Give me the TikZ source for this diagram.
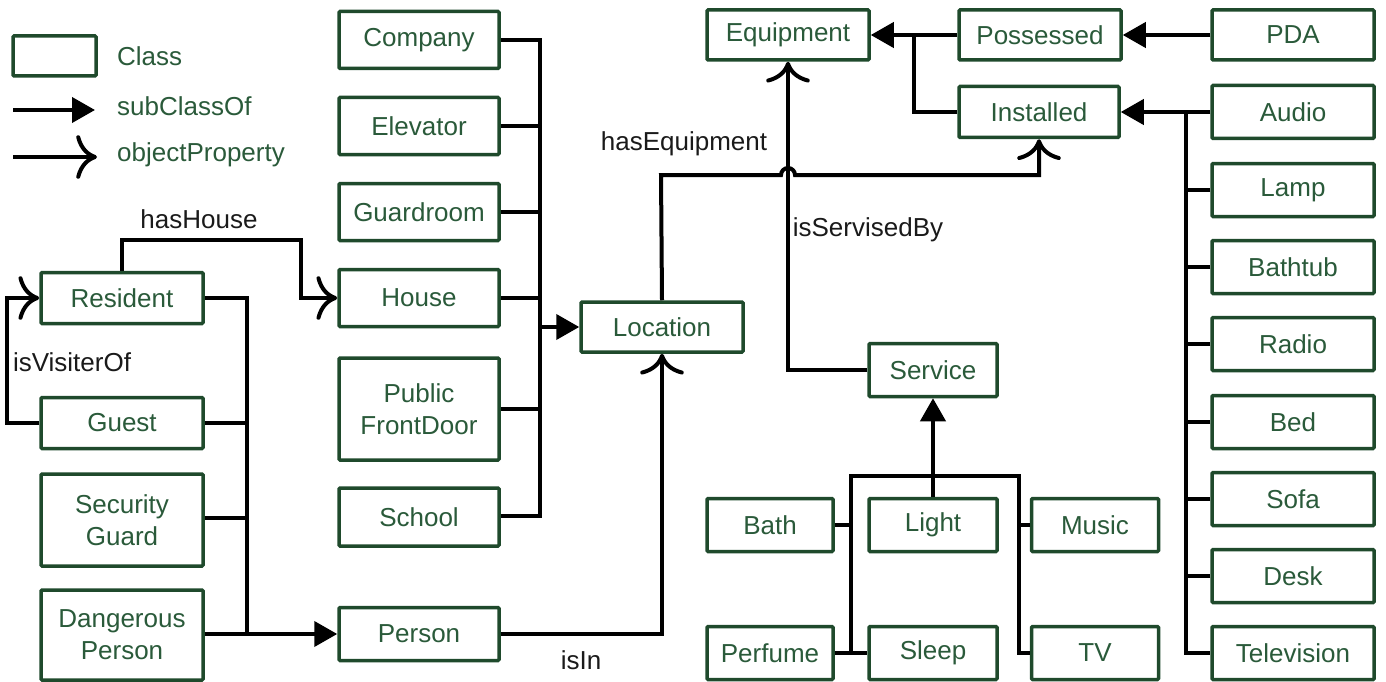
\documentclass[tikz,border=0pt]{standalone}
\usepackage{fontspec}
\setmainfont{Liberation Sans}
\usetikzlibrary{arrows.meta,calc}
\definecolor{boxgreen}{HTML}{1F4A2C}
\definecolor{txtgreen}{HTML}{2A5A3A}
\definecolor{lbl}{HTML}{1A1A1A}
\tikzset{
  cls/.style={draw=boxgreen, line width=3.5pt, rounded corners=1pt, text=txtgreen,
    font=\fontsize{26}{32}\selectfont, align=center, inner sep=0pt, fill=white},
  conn/.style={line width=4pt, black},
  sub/.style={conn, -{Triangle[length=23pt,width=25pt]}},
  obj/.style={conn, -{Computer Modern Rightarrow[scale=2.0, line width=4pt]}},
  lab/.style={text=lbl, font=\fontsize{26}{30}\selectfont, inner sep=0pt},
  leg/.style={text=txtgreen, font=\fontsize{26}{30}\selectfont, inner sep=0pt, anchor=west}
}
\begin{document}
\begin{tikzpicture}[x=1pt,y=-1pt]
\useasboundingbox (0,0) rectangle (1386,682);
% legend
\node[cls, minimum width=83pt, minimum height=40pt] (legbox) at (54.5,56) {};
\node[leg] (legc) at (117,56) {Class};
\coordinate (ls1) at (13,110); \coordinate (ls2) at (95,110);
\draw[sub] (ls1) -- (ls2);
\node[leg] (legs) at (117,106) {subClassOf};
\coordinate (lo1) at (13,157); \coordinate (lo2) at (97,157);
\draw[obj] (lo1) -- (lo2);
\node[leg] (lego) at (117,155) {objectProperty};
% left column
\node[cls, minimum width=162pt, minimum height=51pt] (resident) at (122,298) {Resident};
\node[cls, minimum width=162pt, minimum height=51pt] (guest) at (122,423) {Guest};
\node[cls, minimum width=162pt, minimum height=92pt] (security) at (122,520) {Security\\Guard};
\node[cls, minimum width=162pt, minimum height=90pt] (danger) at (122,635) {Dangerous\\Person};
% middle column
\node[cls, minimum width=160pt, minimum height=57pt] (company) at (419,40) {Company};
\node[cls, minimum width=160pt, minimum height=57pt] (elevator) at (419,126) {Elevator};
\node[cls, minimum width=160pt, minimum height=57pt] (guardroom) at (419,212) {Guardroom};
\node[cls, minimum width=160pt, minimum height=57pt] (house) at (419,298) {House};
\node[cls, minimum width=160pt, minimum height=102pt] (public) at (419,409) {Public\\FrontDoor};
\node[cls, minimum width=160pt, minimum height=58pt] (school) at (419,517) {School};
\node[cls, minimum width=160pt, minimum height=53pt] (person) at (419,634) {Person};
\node[cls, minimum width=162pt, minimum height=50pt] (location) at (662,327) {Location};
% top right
\node[cls, minimum width=162pt, minimum height=50pt] (equipment) at (788,35) {Equipment};
\node[cls, minimum width=162pt, minimum height=50pt] (possessed) at (1040,35) {Possessed};
\node[cls, minimum width=162pt, minimum height=50pt] (pda) at (1293,35) {PDA};
\node[cls, minimum width=160pt, minimum height=51pt] (installed) at (1039,112) {Installed};
% right column
\node[cls, minimum width=162pt, minimum height=53pt] (audio) at (1293,112) {Audio};
\node[cls, minimum width=162pt, minimum height=53pt] (lamp) at (1293,190) {Lamp};
\node[cls, minimum width=162pt, minimum height=53pt] (bathtub) at (1293,267) {Bathtub};
\node[cls, minimum width=162pt, minimum height=53pt] (radio) at (1293,344) {Radio};
\node[cls, minimum width=162pt, minimum height=53pt] (bed) at (1293,422) {Bed};
\node[cls, minimum width=162pt, minimum height=53pt] (sofa) at (1293,499) {Sofa};
\node[cls, minimum width=162pt, minimum height=53pt] (desk) at (1293,576) {Desk};
\node[cls, minimum width=162pt, minimum height=53pt] (television) at (1293,653) {Television};
% service
\node[cls, minimum width=128pt, minimum height=53pt] (service) at (933,370) {Service};
\node[cls, minimum width=126pt, minimum height=53pt] (bath) at (770,525) {Bath};
\node[cls, minimum width=128pt, minimum height=53pt] (light) at (933,525) {Light};
\node[cls, minimum width=127pt, minimum height=53pt] (music) at (1095,525) {Music};
\node[cls, minimum width=126pt, minimum height=53pt] (perfume) at (770,653) {Perfume};
\node[cls, minimum width=128pt, minimum height=53pt] (sleep) at (933,653) {Sleep};
\node[cls, minimum width=127pt, minimum height=53pt] (tv) at (1095,653) {TV};
% left bus
\coordinate (lbt) at (247,298);
\coordinate (lbb) at (247,634);
\draw[conn] (resident.east) -- (lbt) -- (lbb);
\draw[conn] (guest.east) -- (guest.east -| lbt);
\draw[conn] (security.east |- 0,518) -- (247,518);
\draw[conn] (danger.east |- lbb) -- (lbb);
\draw[sub] (lbb) -- (person.west);
% middle bus
\coordinate (mbt) at (540,40);
\coordinate (mbb) at (540,516);
\draw[conn] (company.east) -- (mbt) -- (mbb) -- (school.east |- mbb);
\draw[conn] (elevator.east) -- (elevator.east -| mbt);
\draw[conn] (guardroom.east) -- (guardroom.east -| mbt);
\draw[conn] (house.east) -- (house.east -| mbt);
\draw[conn] (public.east) -- (public.east -| mbt);
\draw[sub] (location.west -| mbt) -- (location.west);
% hasHouse
\coordinate (hh) at (301,240);
\draw[obj] (resident.north) |- (hh) |- (house.west);
\node[lab] (lhh) at (199,219) {hasHouse};
% isVisiterOf
\coordinate (iv) at (7,423);
\draw[obj] (guest.west) -- (iv) |- (resident.west);
\node[lab] (liv) at (72,362) {isVisiterOf};
% isIn
\draw[obj] (person.east) -| (location.south);
\node[lab] (lii) at (581,660) {isIn};
% hasEquipment with hop
\coordinate (he) at (661,175);
\draw[obj] (location.north) -- (he) -- ($(equipment.south |- he)+(-7,0)$)
  arc[start angle=180,end angle=360,radius=7] -- (installed.south |- he) -- (installed.south);
\node[lab] (lhe) at (684,144) {hasEquipment};
% isServisedBy
\draw[obj] (service.west) -| (equipment.south);
\node[lab] (lis) at (868,230) {isServisedBy};
% equipment hierarchy
\coordinate (ej) at (914,35);
\draw[sub] (possessed.west) -- (equipment.east);
\draw[conn] (installed.west) -| (ej);
\draw[sub] (pda.west) -- (possessed.east);
% right bus
\coordinate (rbt) at (1186,112);
\coordinate (rbb) at (1186,653);
\draw[sub] (audio.west) -- (installed.east);
\draw[conn] (rbt) -- (rbb) -- (television.west);
\foreach \n in {lamp,bathtub,radio,bed,sofa,desk}{
  \draw[conn] (\n.west) -- (\n.west -| rbt);
}
% service tree
\coordinate (tl) at (851,476);
\coordinate (tr) at (1019,476);
\draw[sub] (light.north) -- (service.south);
\draw[conn] (perfume.east) -- (sleep.west);
\draw[conn] (perfume.east -| tl) -- (tl) -- (tr) -- (tv.west -| tr) -- (tv.west);
\draw[conn] (bath.east) -- (bath.east -| tl);
\draw[conn] (music.west) -- (music.west -| tr);
\end{tikzpicture}
\end{document}
